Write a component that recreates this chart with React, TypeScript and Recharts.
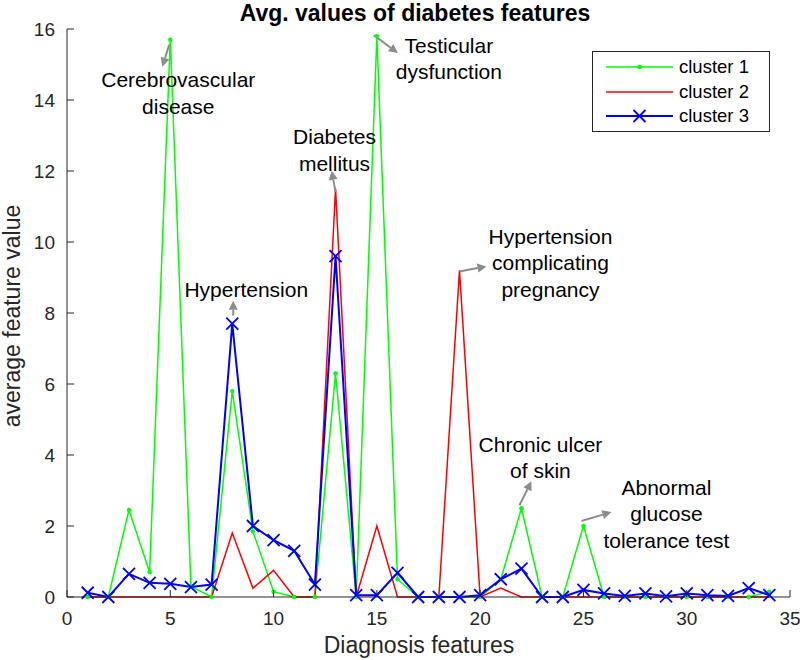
import { LineChart, Line, XAxis, YAxis, ReferenceDot, Legend } from 'recharts';

const features = [1, 2, 3, 4, 5, 6, 7, 8, 9, 10, 11, 12, 13, 14, 15, 16, 17, 18, 19, 20, 21, 22, 23, 24, 25, 26, 27, 28, 29, 30, 31, 32, 33, 34];
const cluster1 = [0, 0, 2.45, 0.7, 15.7, 0.3, 0, 5.8, 1.85, 0.15, 0, 0, 6.3, 0, 15.8, 0.5, 0, 0, 0, 0, 0.5, 2.5, 0, 0, 2.0, 0, 0, 0, 0, 0, 0, 0, 0, 0.15];
const cluster2 = [0, 0, 0, 0, 0, 0, 0, 1.8, 0.25, 0.75, 0, 0, 11.5, 0, 2.0, 0, 0, 0, 9.2, 0, 0.25, 0, 0, 0, 0, 0, 0, 0, 0, 0, 0, 0, 0, 0];
const cluster3 = [0.12, 0, 0.65, 0.4, 0.37, 0.28, 0.35, 7.7, 2.0, 1.6, 1.3, 0.35, 9.6, 0.05, 0.05, 0.68, 0, 0, 0, 0.05, 0.5, 0.8, 0, 0, 0.2, 0.1, 0.03, 0.1, 0.02, 0.1, 0.05, 0.03, 0.25, 0.05];
const seriesNames = ['cluster 1', 'cluster 2', 'cluster 3'];
const xTicks = [0, 5, 10, 15, 20, 25, 30, 35];
const yTicks = [0, 2, 4, 6, 8, 10, 12, 14, 16];

const title = 'Avg. values of diabetes features';
const xLabel = 'Diagnosis features';
const yLabel = 'average feature value';

// annotations point at a value of one of the series
const notes = [
  { series: cluster1, index: 4, lines: ['Cerebrovascular', 'disease'] },
  { series: cluster1, index: 14, lines: ['Testicular', 'dysfunction'] },
  { series: cluster2, index: 12, lines: ['Diabetes', 'mellitus'] },
  { series: cluster3, index: 7, lines: ['Hypertension'] },
  { series: cluster2, index: 18, lines: ['Hypertension', 'complicating', 'pregnancy'] },
  { series: cluster1, index: 21, lines: ['Chronic ulcer', 'of skin'] },
  { series: cluster1, index: 24, lines: ['Abnormal', 'glucose', 'tolerance test'] },
];

// pixel offsets from the anchored point: arrow [x1, y1, x2, y2], text centre
const noteLayout = [
  { arrow: [-1, 5, -8, 27], tx: 8, ty: 40 },
  { arrow: [-3, -1, 21, 17], tx: 72, ty: 9 },
  { arrow: [0, 3, -4, -18], tx: -1, ty: -52 },
  { arrow: [1, -8, 1, -23], tx: 14, ty: -34 },
  { arrow: [0, 1, 27, -4], tx: 91, ty: -34 },
  { arrow: [-2, -3, 10, -27], tx: 19, ty: -64 },
  { arrow: [-2, -5, 28, -14], tx: 83, ty: -39 },
];

const rows = features.map((f, i) => ({ feature: f, c1: cluster1[i], c2: cluster2[i], c3: cluster3[i] }));

const FONT = '"Liberation Sans", Arial, Helvetica, sans-serif';
const AXIS = '#262626';
const GREEN = '#00ff00';
const RED = '#ff0000';
const BLUE = '#0000ff';
const ARROW = '#8c8c8c';

const GreenDot = (p: any) => {
  if (p.cx == null || p.cy == null) return <g key={p.key} />;
  return <circle key={p.key} cx={p.cx} cy={p.cy} r={2.2} fill={GREEN} />;
};

const Cross = (p: any) => {
  if (p.cx == null || p.cy == null) return <g key={p.key} />;
  const s = 6;
  return (
    <path
      key={p.key}
      d={`M${p.cx - s},${p.cy - s}L${p.cx + s},${p.cy + s}M${p.cx - s},${p.cy + s}L${p.cx + s},${p.cy - s}`}
      stroke={BLUE}
      strokeWidth={1.8}
      fill="none"
    />
  );
};

const XTick = ({ x, y, payload }: any) => (
  <g>
    <line x1={x} x2={x} y1={y} y2={y - 7} stroke={AXIS} strokeWidth={1} />
    <text x={x} y={y + 28} textAnchor="middle" fontSize={19} fill={AXIS} fontFamily={FONT}>
      {payload.value}
    </text>
  </g>
);

const YTick = ({ x, y, payload }: any) => (
  <g>
    <line x1={x} x2={x + 7} y1={y} y2={y} stroke={AXIS} strokeWidth={1} />
    <text x={x - 12} y={y + 7} textAnchor="end" fontSize={19} fill={AXIS} fontFamily={FONT}>
      {payload.value}
    </text>
  </g>
);

const Note = ({ cx, cy, lines, layout }: any) => {
  if (cx == null || cy == null) return <g />;
  const [ax1, ay1, ax2, ay2] = layout.arrow;
  const x1 = cx + ax1, y1 = cy + ay1, x2 = cx + ax2, y2 = cy + ay2;
  const len = Math.hypot(x2 - x1, y2 - y1) || 1;
  const ux = (x2 - x1) / len, uy = (y2 - y1) / len;
  const head = 9, half = 4.5;
  const bx = x2 - ux * head, by = y2 - uy * head;
  const pts = `${x2},${y2} ${bx - uy * half},${by + ux * half} ${bx + uy * half},${by - ux * half}`;
  return (
    <g>
      <line x1={x1} y1={y1} x2={bx} y2={by} stroke={ARROW} strokeWidth={2} />
      <polygon points={pts} fill={ARROW} />
      {lines.map((t: string, i: number) => (
        <text
          key={t}
          x={cx + layout.tx}
          y={cy + layout.ty + i * 26.5}
          dy="0.36em"
          textAnchor="middle"
          fontSize={21}
          fill="#000"
          fontFamily={FONT}
        >
          {t}
        </text>
      ))}
    </g>
  );
};

const legendStyles = [
  { color: GREEN, width: 1.5, marker: 'dot' },
  { color: RED, width: 1.5, marker: 'none' },
  { color: BLUE, width: 2, marker: 'cross' },
];

const LegendBox = () => (
  <div style={{ width: 176, height: 79, border: `1.5px solid ${AXIS}`, background: '#fff', position: 'relative', fontFamily: FONT }}>
    {seriesNames.map((name, i) => {
      const st = legendStyles[i];
      const top = 3 + i * 24.5;
      return (
        <div key={name} style={{ position: 'absolute', left: 0, top, height: 24, display: 'flex', alignItems: 'center' }}>
          <svg width={86} height={24} style={{ display: 'block' }}>
            <line x1={13} x2={80} y1={12} y2={12} stroke={st.color} strokeWidth={st.width} />
            {st.marker === 'dot' && <circle cx={46.5} cy={12} r={2.2} fill={st.color} />}
            {st.marker === 'cross' && (
              <path d="M40.5,6L52.5,18M40.5,18L52.5,6" stroke={st.color} strokeWidth={1.8} />
            )}
          </svg>
          <span style={{ fontSize: 18.5, color: '#000', lineHeight: '24px' }}>{name}</span>
        </div>
      );
    })}
  </div>
);

export default function App() {
  return (
    <div style={{ position: 'absolute', left: 0, top: 0, width: 800, height: 660, background: '#fff' }}>
      <LineChart width={800} height={660} data={rows} margin={{ top: 29, right: 10, bottom: 23, left: 0 }}>
        <XAxis
          type="number"
          dataKey="feature"
          domain={[0, 35]}
          ticks={xTicks}
          interval={0}
          height={40}
          tickSize={0}
          tickMargin={0}
          tickLine={false}
          axisLine={{ stroke: AXIS, strokeWidth: 1 }}
          tick={XTick}
        />
        <YAxis
          type="number"
          domain={[0, 16]}
          ticks={yTicks}
          interval={0}
          width={67}
          tickSize={0}
          tickMargin={0}
          tickLine={false}
          axisLine={{ stroke: AXIS, strokeWidth: 1 }}
          tick={YTick}
        />
        <Line type="linear" dataKey="c1" name={seriesNames[0]} stroke={GREEN} strokeWidth={1.5} dot={GreenDot} activeDot={false} isAnimationActive={false} />
        <Line type="linear" dataKey="c2" name={seriesNames[1]} stroke={RED} strokeWidth={1.5} dot={false} activeDot={false} isAnimationActive={false} />
        <Line type="linear" dataKey="c3" name={seriesNames[2]} stroke={BLUE} strokeWidth={2} dot={Cross} activeDot={false} isAnimationActive={false} />
        {notes.map((n, i) => (
          <ReferenceDot
            key={n.lines.join(' ')}
            x={features[n.index]}
            y={n.series[n.index]}
            r={0}
            ifOverflow="visible"
            shape={(p: any) => <Note cx={p.cx} cy={p.cy} lines={n.lines} layout={noteLayout[i]} />}
          />
        ))}
        <Legend
          layout="vertical"
          align="center"
          verticalAlign="middle"
          content={<LegendBox />}
          wrapperStyle={{ top: 51, left: 592, width: 178, height: 81 }}
        />
        <text x={415} y={21} textAnchor="middle" fontSize={23} fontWeight="bold" fill="#000" fontFamily={FONT}>
          {title}
        </text>
        <text x={419} y={653} textAnchor="middle" fontSize={23} fill={AXIS} fontFamily={FONT}>
          {xLabel}
        </text>
        <text x={20} y={316} textAnchor="middle" fontSize={23} fill={AXIS} fontFamily={FONT} transform="rotate(-90 20 316)">
          {yLabel}
        </text>
      </LineChart>
    </div>
  );
}
